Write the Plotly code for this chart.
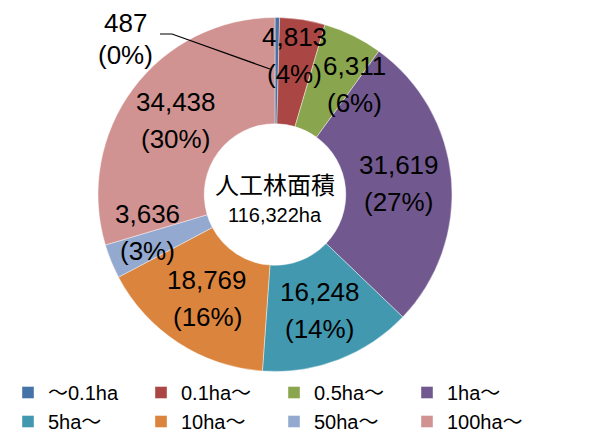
import math
import plotly.graph_objects as go

# page is 608x443; the browser body keeps an 8px margin, so the figure is 600x435
PAGE_W, PAGE_H = 608, 443
OFF = 8
W, H = PAGE_W - OFF, PAGE_H - OFF

categories = ["～0.1ha", "0.1ha～", "0.5ha～", "1ha～", "5ha～", "10ha～", "50ha～", "100ha～"]
areas = [487, 4813, 6311, 31619, 16248, 18769, 3636, 34438]
pct_labels = [0, 4, 6, 27, 14, 16, 3, 30]
colors = ["#4572A7", "#AA4643", "#89A54E", "#71588F", "#4198AF", "#DB843D", "#93A9CF", "#D19392"]
center_title = "人工林面積"
total_label = "116,322ha"

# label placement style: where along each slice (0 = start, 1 = end) and how far out
label_pos_in_slice = [0.5, 0.45, 1.0, 0.5, 0.5, 0.5, 1.0, 0.5]
label_radius = [0, 140, 136, 124, 124, 124, 133, 124]

LABEL_FONT = "Liberation Sans, Arial, sans-serif"
CJK_FONT = "Noto Sans CJK JP, Liberation Sans, sans-serif"

# geometry (page pixels)
CX, CY, R_OUT = 275, 194.5, 177
HOLE = 0.4


def X(x):
    return (x - OFF) / W


def Y(y):
    return 1 - (y - OFF) / H


fig = go.Figure(
    go.Pie(
        labels=categories,
        values=areas,
        textinfo="none",
        hole=HOLE,
        sort=False,
        direction="clockwise",
        rotation=0,
        marker=dict(colors=colors, line=dict(width=0.6, color="rgba(255,255,255,0.7)")),
        domain=dict(x=[X(CX - R_OUT), X(CX + R_OUT)], y=[Y(CY + R_OUT), Y(CY - R_OUT)]),
        hoverinfo="label+value",
    )
)

# data labels placed from each slice's angle
total = sum(areas)
cum = 0
for i, (v, p) in enumerate(zip(areas, pct_labels)):
    ang = (cum + v * label_pos_in_slice[i]) / total * 2 * math.pi
    cum += v
    if i == 0:
        continue
    r = label_radius[i]
    bx = CX + r * math.sin(ang)
    by = CY - r * math.cos(ang)
    for line, dy in ((f"{v:,}", -18.5), (f"({p}%)", 18.5)):
        fig.add_annotation(
            x=X(bx), y=Y(by + dy), xref="paper", yref="paper", text=line,
            showarrow=False, font=dict(family=LABEL_FONT, size=26, color="black"),
            xanchor="center", yanchor="middle",
        )

# label for the tiny first slice with leader line
for line, yy in ((f"{areas[0]:,}", 23), (f"({pct_labels[0]}%)", 55)):
    fig.add_annotation(
        x=X(125), y=Y(yy), xref="paper", yref="paper", text=line,
        showarrow=False, font=dict(family=LABEL_FONT, size=26, color="black"),
        xanchor="center", yanchor="middle",
    )
fig.add_shape(
    type="path", xref="paper", yref="paper",
    path=f"M {X(160)},{Y(34)} L {X(172)},{Y(34)} L {X(270)},{Y(69)}",
    line=dict(color="black", width=1.2),
)

# centre text
fig.add_annotation(
    x=X(275), y=Y(183.5), xref="paper", yref="paper", text=center_title,
    showarrow=False, font=dict(family=CJK_FONT, size=24, color="black"),
)
fig.add_annotation(
    x=X(275), y=Y(214.5), xref="paper", yref="paper", text=total_label,
    showarrow=False, font=dict(family=LABEL_FONT, size=20, color="black"),
)

fig.update_layout(
    width=W, height=H,
    margin=dict(l=0, r=0, t=0, b=0, autoexpand=False),
    paper_bgcolor="white", plot_bgcolor="white",
    showlegend=True,
    legend=dict(
        orientation="h", x=0, y=Y(373), xanchor="left", yanchor="top",
        entrywidth=88, entrywidthmode="pixels",
        font=dict(family=LABEL_FONT + ", " + CJK_FONT, size=20, color="black"),
        traceorder="normal", itemclick=False, bgcolor="rgba(0,0,0,0)",
    ),
)

fig.write_html("out.html")
